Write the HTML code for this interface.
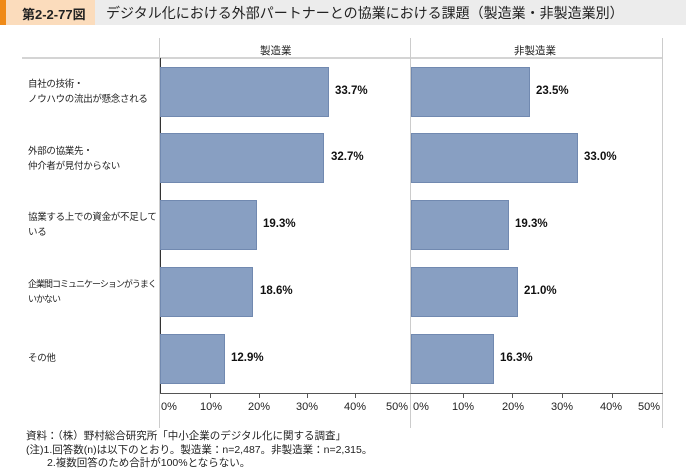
<!DOCTYPE html>
<html><head><meta charset="utf-8"><style>
body{margin:0;width:686px;height:472px;background:#fff;font-family:"Liberation Sans","Noto Sans CJK JP",sans-serif;position:relative;overflow:hidden;color:#222}
.a{position:absolute}
.bar{position:absolute;height:50px;background:#889fc2;border:1px solid #7189b0;box-sizing:border-box}
.v{position:absolute;font-size:11.5px;font-weight:bold;color:#111}
.c{position:absolute;left:28px;font-size:9.5px;letter-spacing:-0.3px;line-height:15px;color:#222;white-space:nowrap}
.t{position:absolute;top:401px;font-size:11px;color:#222}
.tk{position:absolute;top:393px;width:1px;height:5px;background:#555}
</style></head><body>
<div class="a" style="left:0;top:0;width:686px;height:25px;background:#ececec"></div>
<div class="a" style="left:0;top:0;width:6px;height:25px;background:#ef8a17"></div>
<div class="a" style="left:6px;top:0;width:89px;height:25px;background:#fbdcbc"></div>
<div class="a" style="left:22px;top:4px;font-size:13px;font-weight:bold;color:#222">第2-2-77図</div>
<div class="a" style="left:106px;top:3px;font-size:14px;color:#222">デジタル化における外部パートナーとの協業における課題（製造業・非製造業別）</div>

<div class="a" style="left:22px;top:57px;width:640px;height:2px;background:#d4d4d4"></div>
<div class="a" style="left:159px;top:38px;width:1px;height:20px;background:#ccc"></div>
<div class="a" style="left:410px;top:38px;width:1px;height:390px;background:#ccc"></div>
<div class="a" style="left:662px;top:38px;width:1px;height:390px;background:#ccc"></div>
<div class="a" style="left:159px;top:58px;width:1px;height:370px;background:#ccc"></div>
<div class="a" style="left:160px;top:58px;width:1px;height:336px;background:#333"></div>
<div class="a" style="left:160px;top:393px;width:503px;height:1px;background:#555"></div>
<div class="a" style="left:260px;top:43px;font-size:10.5px">製造業</div>
<div class="a" style="left:514px;top:43px;font-size:10.5px">非製造業</div>

<div class="c" style="top:77px">自社の技術・<br>ノウハウの流出が懸念される</div>
<div class="c" style="top:144px">外部の協業先・<br>仲介者が見付からない</div>
<div class="c" style="top:210px">協業する上での資金が不足して<br>いる</div>
<div class="c" style="top:277px;font-size:9px;letter-spacing:-1px">企業間コミュニケーションがうまく<br>いかない</div>
<div class="c" style="top:351px">その他</div>

<div class="bar" style="left:160px;top:67px;width:169px"></div><div class="v" style="left:335px;top:85px">33.7%</div>
<div class="bar" style="left:160px;top:133px;width:164px"></div><div class="v" style="left:331px;top:151px">32.7%</div>
<div class="bar" style="left:160px;top:200px;width:97px"></div><div class="v" style="left:263px;top:218px">19.3%</div>
<div class="bar" style="left:160px;top:267px;width:93px"></div><div class="v" style="left:260px;top:285px">18.6%</div>
<div class="bar" style="left:160px;top:334px;width:65px"></div><div class="v" style="left:231px;top:352px">12.9%</div>

<div class="bar" style="left:411px;top:67px;width:119px"></div><div class="v" style="left:536px;top:85px">23.5%</div>
<div class="bar" style="left:411px;top:133px;width:167px"></div><div class="v" style="left:584px;top:151px">33.0%</div>
<div class="bar" style="left:411px;top:200px;width:98px"></div><div class="v" style="left:515px;top:218px">19.3%</div>
<div class="bar" style="left:411px;top:267px;width:107px"></div><div class="v" style="left:524px;top:285px">21.0%</div>
<div class="bar" style="left:411px;top:334px;width:83px"></div><div class="v" style="left:500px;top:352px">16.3%</div>

<div class="tk" style="left:210px"></div><div class="tk" style="left:259px"></div><div class="tk" style="left:307px"></div><div class="tk" style="left:355px"></div>
<div class="tk" style="left:463px"></div><div class="tk" style="left:512px"></div><div class="tk" style="left:562px"></div><div class="tk" style="left:612px"></div>
<div class="t" style="left:161px">0%</div><div class="t" style="left:200px">10%</div><div class="t" style="left:248px">20%</div><div class="t" style="left:296px">30%</div><div class="t" style="left:344px">40%</div><div class="t" style="left:386px">50%</div>
<div class="t" style="left:413px">0%</div><div class="t" style="left:452px">10%</div><div class="t" style="left:502px">20%</div><div class="t" style="left:551px">30%</div><div class="t" style="left:600px">40%</div><div class="t" style="left:638px">50%</div>

<div class="a" style="left:26px;top:430px;font-size:10.5px;line-height:13.5px;color:#222">資料：（株）野村総合研究所「中小企業のデジタル化に関する調査」<br>(注)1.回答数(n)は以下のとおり。製造業：n=2,487。非製造業：n=2,315。<br>　　2.複数回答のため合計が100%とならない。</div>
</body></html>
